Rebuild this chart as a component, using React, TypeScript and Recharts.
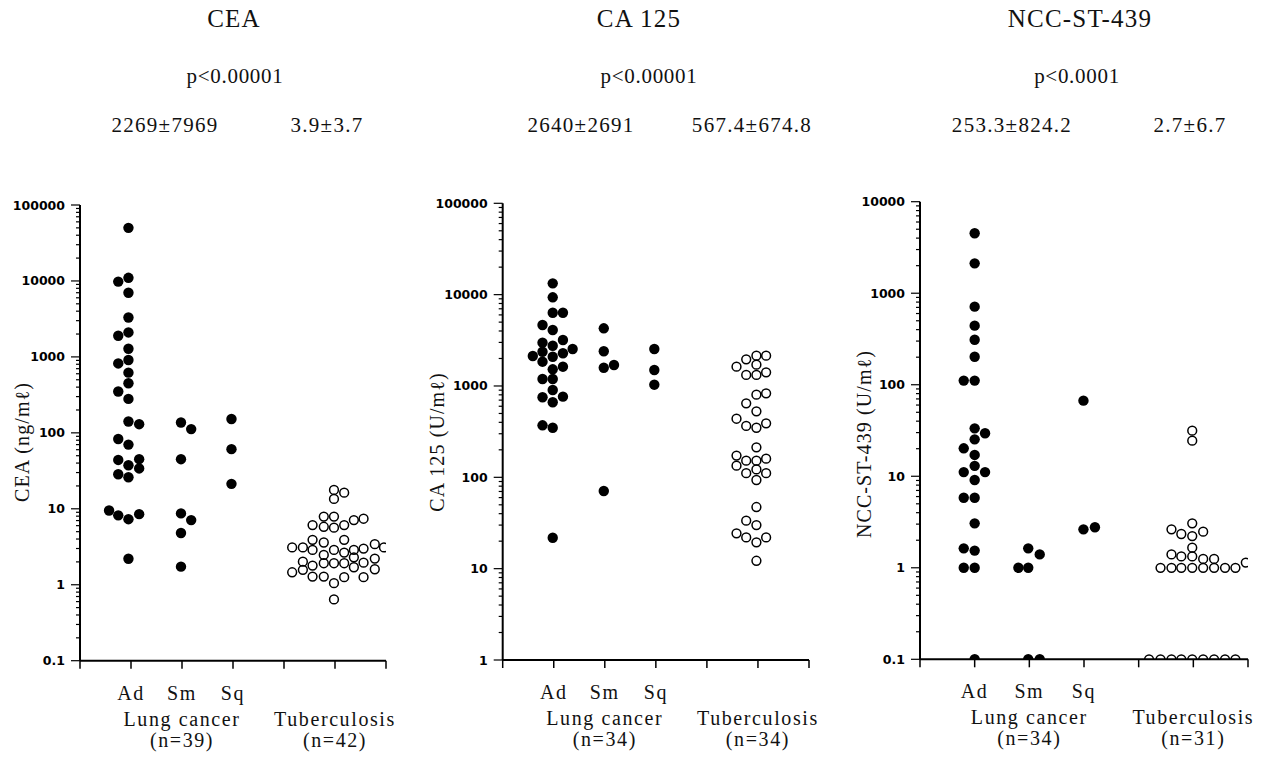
import React from 'react';
import { ScatterChart, Scatter, XAxis, YAxis } from 'recharts';

// ---------- data: [x offset within group (axis units), value] ----------
const groupCenters = { Ad: 1, Sm: 2, Sq: 3, Tb: 5 };
const xTicks = [0, 1, 2, 3, 4, 5, 6];
const lungSubtypes = ['Ad', 'Sm', 'Sq'];

const ceaAd: [number, number][] = [
  [-0.05, 50000], [-0.25, 9800], [-0.05, 11000], [-0.05, 7000], [-0.05, 3300], [-0.05, 2100],
  [-0.25, 1900], [-0.05, 1280], [-0.05, 910], [-0.25, 820], [-0.05, 620], [-0.05, 450],
  [-0.25, 350], [-0.05, 280], [-0.05, 141], [0.16, 130], [-0.25, 83], [-0.05, 70],
  [-0.25, 44], [0.16, 45], [-0.05, 37.5], [0.16, 34], [-0.25, 28.5], [-0.05, 26],
  [-0.43, 9.5], [-0.25, 8.2], [-0.05, 7.3], [0.16, 8.5], [-0.05, 2.2],
];
const ceaSm: [number, number][] = [
  [-0.02, 137], [0.18, 112], [-0.02, 45], [-0.02, 8.7], [0.18, 7.1], [-0.02, 4.8], [-0.02, 1.73],
];
const ceaSq: [number, number][] = [[-0.03, 152], [-0.03, 61], [-0.03, 21.3]];
const ceaTb: [number, number][] = [
  [-0.02, 17.7], [0.18, 16.3], [-0.02, 13.5],
  [-0.22, 7.9], [-0.02, 7.9], [0.37, 7.1], [0.56, 7.4],
  [-0.44, 6.1], [-0.22, 5.8], [-0.02, 5.65], [0.18, 6.1],
  [-0.44, 3.9], [-0.22, 3.6], [0.18, 3.9],
  [-0.84, 3.1], [-0.63, 3.1], [-0.44, 2.87], [-0.02, 2.87], [0.37, 2.87], [0.56, 2.99], [0.78, 3.42], [0.96, 3.1],
  [-0.22, 2.47], [0.18, 2.65], [0.37, 2.3],
  [-0.63, 2.01], [-0.44, 1.79], [-0.22, 1.92], [-0.02, 1.92], [0.18, 1.92], [0.37, 1.7], [0.56, 1.95], [0.78, 2.21],
  [-0.84, 1.46], [-0.63, 1.57], [0.78, 1.6],
  [-0.44, 1.28], [-0.22, 1.28], [0.18, 1.26], [0.56, 1.26],
  [-0.02, 1.05], [-0.02, 0.64],
];

const caAd: [number, number][] = [
  [-0.02, 13300], [-0.02, 9350], [-0.02, 6340], [0.18, 6340], [-0.22, 4650], [-0.02, 4100],
  [-0.22, 2980], [0.18, 3190], [-0.02, 2760], [0.37, 2540], [-0.22, 2370], [0.18, 2280],
  [-0.41, 2130], [-0.02, 2090], [-0.22, 1845], [0.18, 1626], [-0.02, 1522], [-0.22, 1192],
  [-0.02, 1192], [-0.02, 903], [0.18, 764], [-0.22, 752], [-0.02, 663], [-0.22, 371],
  [-0.02, 349], [-0.02, 21.8],
];
const caSm: [number, number][] = [[-0.02, 4280], [-0.02, 2400], [-0.02, 1585], [0.18, 1698], [-0.02, 70.8]];
const caSq: [number, number][] = [[-0.03, 2540], [-0.03, 1496], [-0.03, 1033]];
const caTb: [number, number][] = [
  [-0.42, 1626], [-0.23, 1960], [-0.03, 2147], [0.16, 2147], [-0.03, 1710], [-0.23, 1320], [-0.03, 1320], [0.16, 1412],
  [0.16, 832], [-0.03, 803], [-0.23, 646], [-0.03, 528], [-0.42, 438], [-0.23, 365], [-0.03, 349], [0.16, 390],
  [-0.03, 213], [-0.42, 173], [-0.23, 152], [-0.03, 152], [0.16, 160], [-0.42, 134], [-0.23, 111], [-0.03, 122],
  [0.16, 111], [-0.03, 93.5],
  [-0.03, 47.3], [-0.23, 33.5], [-0.03, 30], [-0.42, 24.4], [-0.23, 22], [-0.03, 19.4], [0.16, 22], [-0.03, 12.2],
];

const nccAd: [number, number][] = [
  [0, 4520], [0, 2120], [0, 713], [0, 442], [0, 310], [0, 202], [-0.2, 111], [0, 111],
  [0, 33.4], [0.19, 29.5], [0, 25.3], [-0.2, 20.2], [0, 17.1], [0, 13], [-0.2, 11.1], [0.19, 11.1],
  [0, 9.1], [-0.2, 5.83], [0, 5.83], [0, 3.06], [-0.2, 1.63], [0, 1.54], [-0.2, 1], [0, 1], [0, 0.1],
];
const nccSm: [number, number][] = [[-0.02, 1.63], [0.19, 1.4], [-0.2, 1], [-0.02, 1], [-0.02, 0.1], [0.19, 0.1]];
const nccSq: [number, number][] = [[-0.01, 67], [-0.01, 2.63], [0.2, 2.77]];
const nccTb: [number, number][] = [
  [-0.02, 31.5], [-0.02, 24.5], [-0.02, 3.06], [-0.4, 2.63], [0.18, 2.48], [-0.22, 2.34], [-0.02, 2.22],
  [-0.02, 1.66], [-0.4, 1.4], [-0.22, 1.33], [-0.02, 1.33], [0.18, 1.25], [0.38, 1.25],
  [-0.6, 1], [-0.4, 1], [-0.22, 1], [-0.02, 1], [0.18, 1], [0.38, 1], [0.58, 1], [0.77, 1], [0.96, 1.14],
  [-0.81, 0.1], [-0.6, 0.1], [-0.4, 0.1], [-0.22, 0.1], [-0.02, 0.1], [0.18, 0.1], [0.38, 0.1], [0.58, 0.1], [0.77, 0.1],
];

const ceaDecades = [0.1, 1, 10, 100, 1000, 10000, 100000];
const caDecades = [1, 10, 100, 1000, 10000, 100000];
const nccDecades = [0.1, 1, 10, 100, 1000, 10000];
const minorSteps = [2, 3, 4, 5, 6, 7, 8, 9];

const titles = ['CEA', 'CA 125', 'NCC-ST-439'];
const pValues = ['p<0.00001', 'p<0.00001', 'p<0.0001'];
const lungStats = ['2269±7969', '2640±2691', '253.3±824.2'];
const tbStats = ['3.9±3.7', '567.4±674.8', '2.7±6.7'];
const yLabels = ['CEA (ng/mℓ)', 'CA 125 (U/mℓ)', 'NCC-ST-439 (U/mℓ)'];
const lungN = ['(n=39)', '(n=34)', '(n=34)'];
const tbN = ['(n=42)', '(n=34)', '(n=31)'];

// ---------- helpers ----------
const toPoints = (arr: [number, number][], center: number) => arr.map(([o, v]) => ({ x: center + o, y: v }));
const buildTicks = (decades: number[]) => {
  const t: number[] = [];
  decades.forEach((d, i) => {
    t.push(d);
    if (i < decades.length - 1) minorSteps.forEach((k) => t.push(Number((d * k).toPrecision(6))));
  });
  return t;
};
const isDecade = (v: number) => Math.abs(Math.log10(v) - Math.round(Math.log10(v))) < 1e-9;

const SERIF = '"Liberation Serif", "Times New Roman", serif';

const FilledDot = (p: any) => <circle cx={p.cx} cy={p.cy} r={5.2} fill="#000" />;
const OpenDot = (p: any) => <circle cx={p.cx} cy={p.cy} r={4.4} fill="none" stroke="#000" strokeWidth={1.5} />;

const YTick = (props: any) => {
  const { x, y, payload } = props;
  const v = payload.value;
  const major = isDecade(v);
  return (
    <g>
      <line x1={x} x2={x - (major ? 9 : 4)} y1={y} y2={y} stroke="#000" strokeWidth={1.2} />
      {major && (
        <text x={x - 15} y={y} dy={4.5} textAnchor="end" fontFamily='"DejaVu Sans", sans-serif' fontWeight="bold" fontSize={12.5} fill="#000">
          {String(v)}
        </text>
      )}
    </g>
  );
};

const makeXTick = (idx: number) => (props: any) => {
  const { x, y, payload } = props;
  const v = payload.value;
  const lab = { fontFamily: SERIF, fontSize: 20, letterSpacing: 1.6, fill: '#111', textAnchor: 'middle' as const };
  return (
    <g>
      <line x1={x} x2={x} y1={y} y2={y + 8} stroke="#000" strokeWidth={1.5} />
      {v >= 1 && v <= 3 && <text x={x} y={y + 39} {...lab}>{lungSubtypes[v - 1]}</text>}
      {v === groupCenters.Sm && <text x={x} y={y + 65} {...lab}>Lung cancer</text>}
      {v === groupCenters.Sm && <text x={x} y={y + 86} {...lab}>{lungN[idx]}</text>}
      {v === groupCenters.Tb && <text x={x} y={y + 65} {...lab}>Tuberculosis</text>}
      {v === groupCenters.Tb && <text x={x} y={y + 86} {...lab}>{tbN[idx]}</text>}
    </g>
  );
};

type PanelCfg = {
  left: number; width: number; margin: { top: number; right: number; bottom: number; left: number };
  decades: number[]; ad: [number, number][]; sm: [number, number][]; sq: [number, number][]; tb: [number, number][];
};

const panels: PanelCfg[] = [
  { left: 0, width: 400, margin: { top: 205, right: 14, bottom: 70.3, left: 10 }, decades: ceaDecades, ad: ceaAd, sm: ceaSm, sq: ceaSq, tb: ceaTb },
  { left: 420, width: 400, margin: { top: 203.3, right: 11, bottom: 71, left: 12.7 }, decades: caDecades, ad: caAd, sm: caSm, sq: caSq, tb: caTb },
  { left: 840, width: 430, margin: { top: 201.7, right: 22, bottom: 71.7, left: 10 }, decades: nccDecades, ad: nccAd, sm: nccSm, sq: nccSq, tb: nccTb },
];

// overlay text positions
const titleX = [234, 639, 1080];
const pX = [235, 649, 1077];
const lungStatX = [165, 581, 1012];
const tbStatX = [327, 752, 1190];
const yLabelPos = [[29, 442], [444, 442], [871, 444]];

export default function App() {
  return (
    <div style={{ position: 'absolute', left: 0, top: 0, width: 1270, height: 761, background: '#fff' }}>
      {panels.map((p, i) => (
        <div key={i} style={{ position: 'absolute', left: p.left, top: 0 }}>
          <ScatterChart width={p.width} height={761} margin={p.margin}>
            <XAxis
              type="number"
              dataKey="x"
              domain={[0, 6]}
              ticks={xTicks}
              interval={0}
              allowDataOverflow
              height={30}
              tickSize={0}
              tickMargin={0}
              tickLine={false}
              axisLine={{ stroke: '#000', strokeWidth: 2 }}
              tick={makeXTick(i)}
            />
            <YAxis
              type="number"
              dataKey="y"
              scale="log"
              domain={[p.decades[0], p.decades[p.decades.length - 1]]}
              ticks={buildTicks(p.decades)}
              interval={0}
              allowDataOverflow
              width={70}
              tickSize={0}
              tickMargin={0}
              tickLine={false}
              axisLine={{ stroke: '#000', strokeWidth: 2 }}
              tick={YTick}
            />
            <Scatter data={toPoints(p.ad, groupCenters.Ad)} shape={FilledDot} isAnimationActive={false} />
            <Scatter data={toPoints(p.sm, groupCenters.Sm)} shape={FilledDot} isAnimationActive={false} />
            <Scatter data={toPoints(p.sq, groupCenters.Sq)} shape={FilledDot} isAnimationActive={false} />
            <Scatter data={toPoints(p.tb, groupCenters.Tb)} shape={OpenDot} isAnimationActive={false} />
          </ScatterChart>
        </div>
      ))}
      <svg width={1270} height={761} style={{ position: 'absolute', left: 0, top: 0, pointerEvents: 'none' }}>
        {titles.map((t, i) => (
          <g key={i} fontFamily={SERIF} fill="#111">
            <text x={titleX[i]} y={27} textAnchor="middle" fontSize={25} letterSpacing={1.2}>{t}</text>
            <text x={pX[i]} y={83} textAnchor="middle" fontSize={21} letterSpacing={0.7}>{pValues[i]}</text>
            <text x={lungStatX[i]} y={132} textAnchor="middle" fontSize={21} letterSpacing={1.3}>{lungStats[i]}</text>
            <text x={tbStatX[i]} y={132} textAnchor="middle" fontSize={21} letterSpacing={1.3}>{tbStats[i]}</text>
            <text
              x={yLabelPos[i][0]}
              y={yLabelPos[i][1]}
              textAnchor="middle"
              fontSize={20}
              letterSpacing={1.1}
              transform={`rotate(-90, ${yLabelPos[i][0]}, ${yLabelPos[i][1]})`}
            >
              {yLabels[i]}
            </text>
          </g>
        ))}
      </svg>
    </div>
  );
}
